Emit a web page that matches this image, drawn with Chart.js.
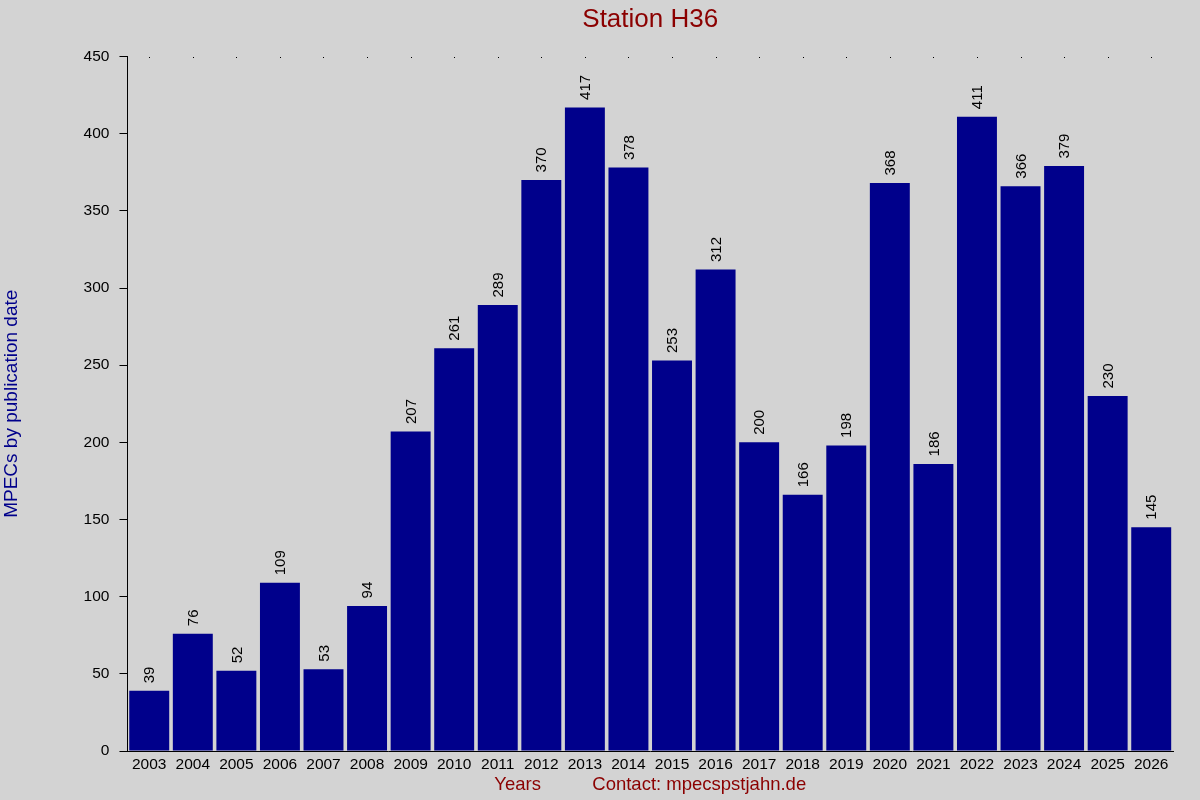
<!DOCTYPE html>
<html>
<head>
<meta charset="utf-8">
<title>Station H36</title>
<script src="https://cdn.jsdelivr.net/npm/chart.js@4.4.1/dist/chart.umd.min.js"></script>
<style>
    html, body { margin: 0; padding: 0; background: #d3d3d3; }
    canvas { display: block; background: #d3d3d3; }
</style>
</head>
<body>
<canvas id="chart" width="1200" height="800"></canvas>
<script>
    // Chart data
    var years = ['2003', '2004', '2005', '2006', '2007', '2008', '2009', '2010',
                 '2011', '2012', '2013', '2014', '2015', '2016', '2017', '2018',
                 '2019', '2020', '2021', '2022', '2023', '2024', '2025', '2026'];
    var mpecCounts = [39, 76, 52, 109, 53, 94, 207, 261,
                      289, 370, 417, 378, 253, 312, 200, 166,
                      198, 368, 186, 411, 366, 379, 230, 145];
    var yTicks = [0, 50, 100, 150, 200, 250, 300, 350, 400, 450];
    var chartTitle = 'Station H36';

    var FONT = "'Liberation Sans', Arial, sans-serif";
    Chart.defaults.font.family = FONT;
    Chart.defaults.color = '#000';

    // Title centred over the plot area (not the whole canvas)
    var plotTitle = {
        id: 'plotTitle',
        afterDraw: function (chart) {
            var ctx = chart.ctx;
            var area = chart.chartArea;
            ctx.save();
            ctx.font = '26px ' + FONT;
            ctx.fillStyle = '#8b0000';
            ctx.textAlign = 'center';
            ctx.textBaseline = 'alphabetic';
            ctx.fillText(chartTitle, (area.left + area.right) / 2, 27);
            ctx.restore();
        }
    };

    // Value labels, rotated, just above each bar
    var valueLabels = {
        id: 'valueLabels',
        afterDatasetsDraw: function (chart) {
            var ctx = chart.ctx;
            var meta = chart.getDatasetMeta(0);
            ctx.save();
            ctx.font = '15px ' + FONT;
            ctx.fillStyle = '#000';
            ctx.textAlign = 'left';
            ctx.textBaseline = 'middle';
            meta.data.forEach(function (bar, i) {
                ctx.save();
                ctx.translate(bar.x + 1, bar.y - 7.5);
                ctx.rotate(-Math.PI / 2);
                ctx.fillText(String(mpecCounts[i]), 0, 0);
                ctx.restore();
            });
            ctx.restore();
        }
    };

    // Small dots along the top edge at each category
    var topDots = {
        id: 'topDots',
        afterDraw: function (chart) {
            var ctx = chart.ctx;
            var xScale = chart.scales.x;
            var top = Math.round(chart.chartArea.top);
            ctx.save();
            ctx.fillStyle = '#000';
            years.forEach(function (y, i) {
                ctx.fillRect(Math.round(xScale.getPixelForValue(i)), top, 1, 1);
            });
            ctx.restore();
        }
    };

    new Chart(document.getElementById('chart'), {
        type: 'bar',
        data: {
            labels: years,
            datasets: [{
                data: mpecCounts,
                backgroundColor: '#00008b',
                borderWidth: 0,
                barPercentage: 0.917,
                categoryPercentage: 1.0
            }]
        },
        options: {
            responsive: false,
            animation: false,
            devicePixelRatio: 1,
            layout: {
                padding: { top: 56.5, right: 27, bottom: 3.8, left: 0 }
            },
            plugins: {
                legend: { display: false },
                tooltip: { enabled: false },
                title: { display: false }
            },
            scales: {
                x: {
                    grid: { display: false, drawTicks: false, tickLength: 0 },
                    border: { display: true, color: '#000', width: 1 },
                    ticks: { font: { size: 15.5 }, color: '#000', padding: 4.2, maxRotation: 0, autoSkip: false },
                    title: {
                        display: true,
                        text: 'Years          Contact: mpecspstjahn.de',
                        color: '#8b0000',
                        font: { size: 18.5 },
                        padding: { top: -4, bottom: 0 }
                    }
                },
                y: {
                    min: 0,
                    max: 450,
                    afterBuildTicks: function (scale) {
                        scale.ticks = yTicks.map(function (v) { return { value: v }; });
                    },
                    grid: { drawOnChartArea: false, color: '#000', tickLength: 8 },
                    border: { display: true, color: '#000', width: 1 },
                    ticks: { font: { size: 15.5 }, color: '#000', padding: 10 },
                    title: {
                        display: true,
                        text: 'MPECs by publication date',
                        color: '#00008b',
                        font: { size: 19 },
                        padding: { top: 0.5, bottom: 50.3 }
                    }
                }
            }
        },
        plugins: [valueLabels, topDots, plotTitle]
    });
</script>
</body>
</html>
